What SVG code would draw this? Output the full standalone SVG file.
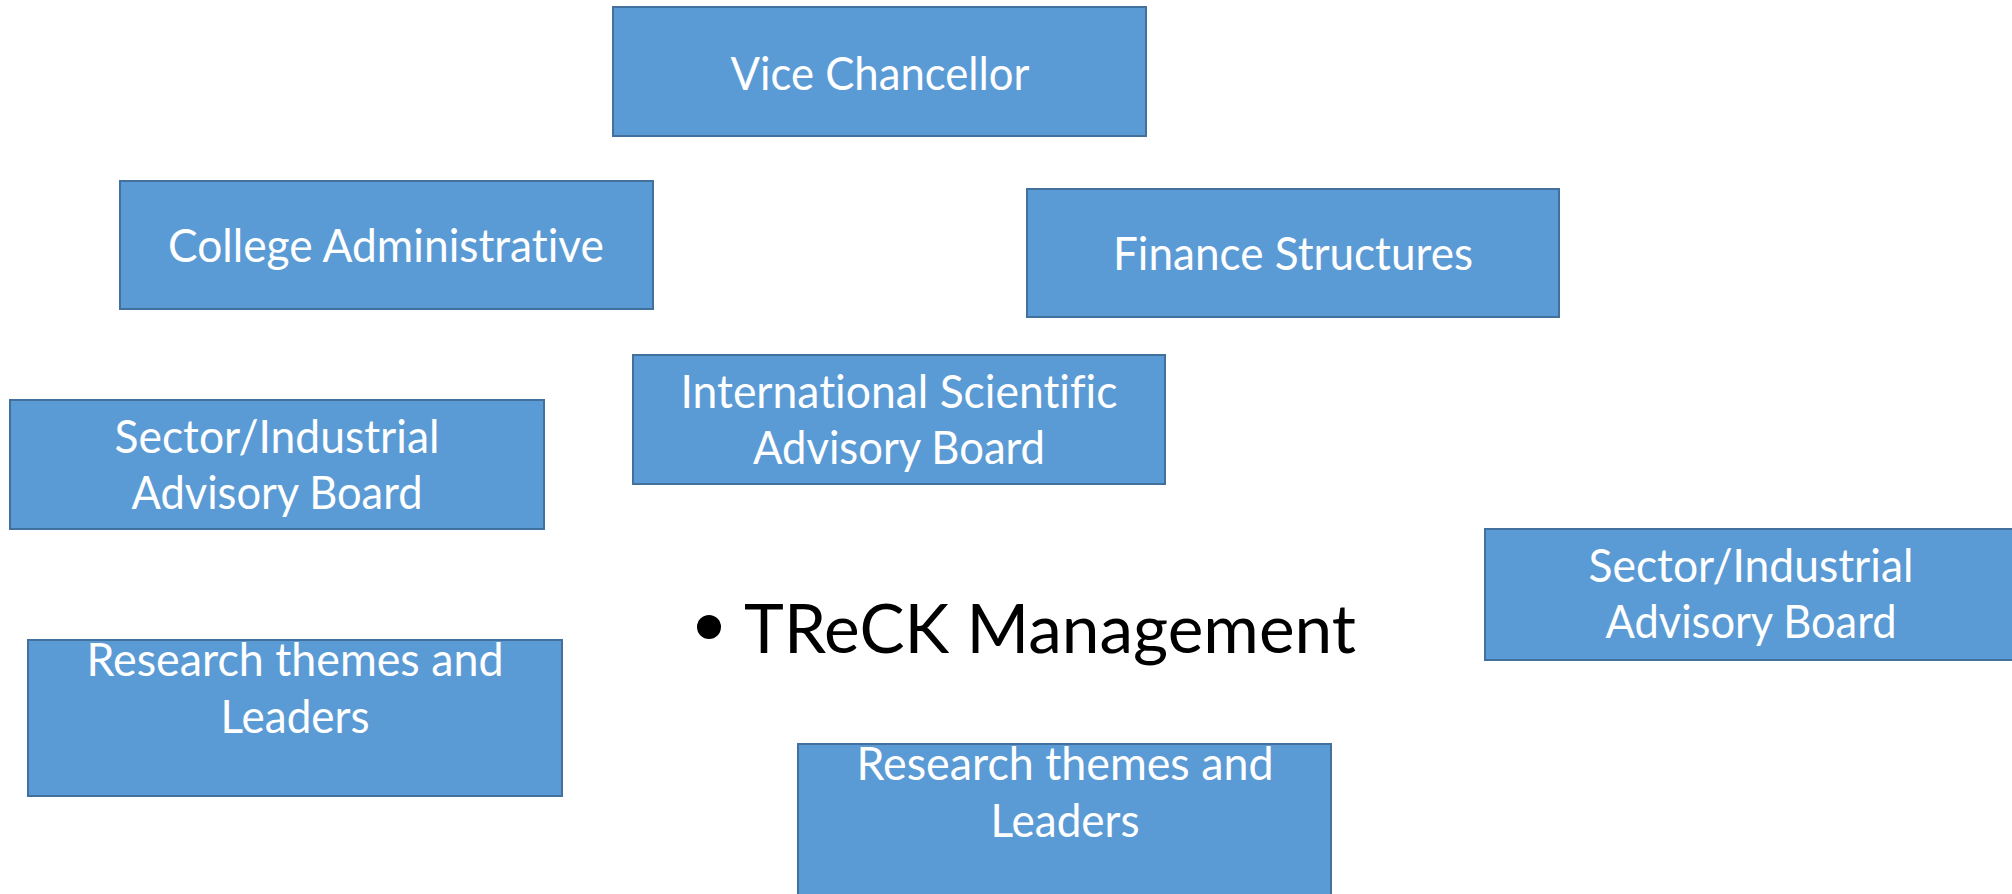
<svg xmlns="http://www.w3.org/2000/svg" width="2012" height="894" viewBox="0 0 2012 894">
<style>
.box{fill:#5B9BD5;stroke:#41719C;stroke-width:2}
.lbl{fill:#FFFFFF;font-family:Lato,"Open Sans","Liberation Sans",sans-serif;font-size:46px;text-anchor:middle;font-variant-ligatures:none;font-feature-settings:"liga" 0,"dlig" 0}
.main{fill:#000000;font-family:Lato,"Open Sans","Liberation Sans",sans-serif;font-size:67px;font-variant-ligatures:none}
</style>
<rect x="0" y="0" width="2012" height="894" fill="#FFFFFF"/>
<g id="connectors"></g>
<g id="vice-chancellor">
<rect class="box" x="613" y="7" width="533" height="129"/>
<text class="lbl" x="880" y="90" textLength="299" lengthAdjust="spacingAndGlyphs">Vice Chancellor</text>
</g>
<g id="college-administrative">
<rect class="box" x="120" y="181" width="533" height="128"/>
<text class="lbl" x="386" y="262" textLength="436" lengthAdjust="spacingAndGlyphs">College Administrative</text>
</g>
<g id="finance-structures">
<rect class="box" x="1027" y="189" width="532" height="128"/>
<text class="lbl" x="1293" y="270" textLength="360" lengthAdjust="spacingAndGlyphs">Finance Structures</text>
</g>
<g id="international-scientific-advisory-board">
<rect class="box" x="633" y="355" width="532" height="129"/>
<text class="lbl" x="899" y="408" textLength="437" lengthAdjust="spacingAndGlyphs">International Scientific</text>
<text class="lbl" x="899" y="464" textLength="292" lengthAdjust="spacingAndGlyphs">Advisory Board</text>
</g>
<g id="sector-industrial-left">
<rect class="box" x="10" y="400" width="534" height="129"/>
<text class="lbl" x="277" y="453" textLength="325" lengthAdjust="spacingAndGlyphs">Sector/Industrial</text>
<text class="lbl" x="277" y="509" textLength="291" lengthAdjust="spacingAndGlyphs">Advisory Board</text>
</g>
<g id="research-themes-left">
<rect class="box" x="28" y="640" width="534" height="156"/>
<text class="lbl" x="295" y="676" textLength="417" lengthAdjust="spacingAndGlyphs">Research themes and</text>
<text class="lbl" x="295" y="733" textLength="149" lengthAdjust="spacingAndGlyphs">Leaders</text>
</g>
<g id="sector-industrial-right">
<rect class="box" x="1485" y="529" width="533" height="131"/>
<text class="lbl" x="1751" y="582" textLength="325" lengthAdjust="spacingAndGlyphs">Sector/Industrial</text>
<text class="lbl" x="1751" y="638" textLength="291" lengthAdjust="spacingAndGlyphs">Advisory Board</text>
</g>
<g id="research-themes-bottom">
<rect class="box" x="798" y="744" width="533" height="158"/>
<text class="lbl" x="1065" y="780" textLength="417" lengthAdjust="spacingAndGlyphs">Research themes and</text>
<text class="lbl" x="1065" y="837" textLength="149" lengthAdjust="spacingAndGlyphs">Leaders</text>
</g>
<g id="treck-management">
<circle cx="709" cy="627" r="12" fill="#000000"/>
<text class="main" x="744" y="653" textLength="612" lengthAdjust="spacingAndGlyphs">TReCK Management</text>
</g>
</svg>
